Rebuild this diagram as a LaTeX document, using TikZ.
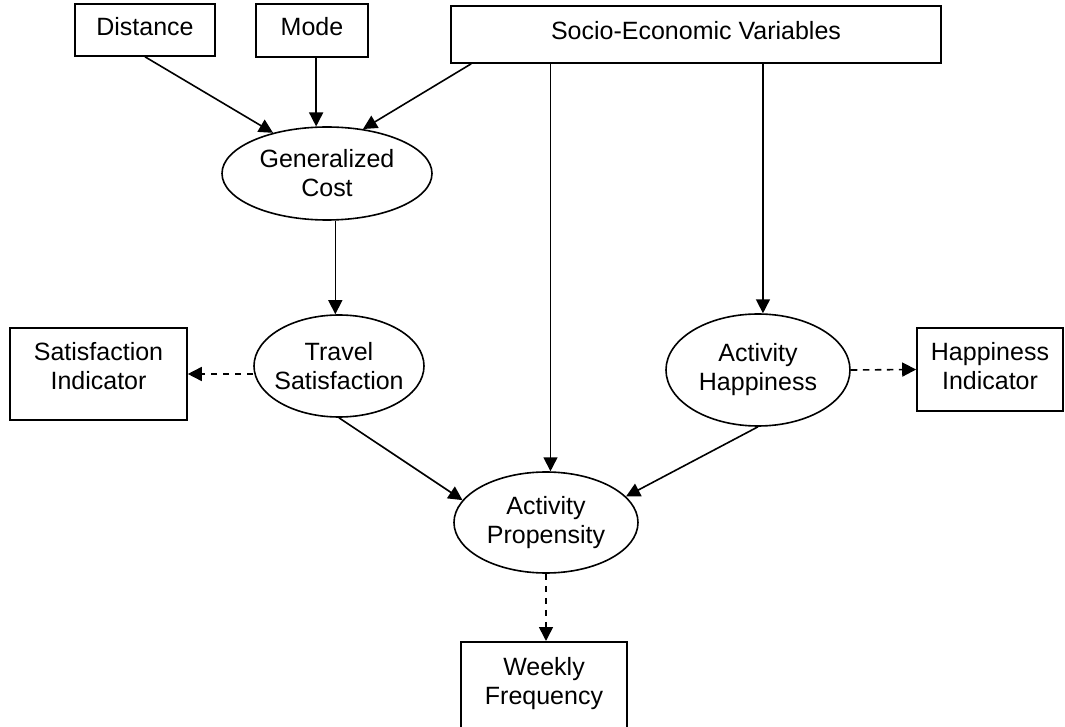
\documentclass[tikz,border=0pt]{standalone}
\usepackage{fontspec}
\setmainfont{Liberation Sans}
\usetikzlibrary{arrows.meta,shapes.geometric,calc}

\tikzset{every picture/.style={line width=1.2pt}}
\tikzset{
	varbox/.style={draw, rectangle, align=center, inner sep=2pt},
	latent/.style={draw, ellipse, align=center, inner sep=0pt},
	causal/.style={-{Triangle[length=10.5pt,width=10.5pt]}},
	measure/.style={causal, dash pattern=on 5pt off 4pt},
}

\begin{document}
\begin{tikzpicture}[x=0.75pt,y=0.75pt,yscale=-1,xscale=1,font=\fontsize{18.75}{21.75}\selectfont]
	\useasboundingbox (0,0) rectangle (1065,727); %set diagram size to 1065 x 727

	%Shape: Rectangle [id:dist]
	\node[varbox, minimum width=105pt, minimum height=39pt, text depth=6pt] (dist) at (145,30) {Distance};
	%Shape: Rectangle [id:mode]
	\node[varbox, minimum width=84pt, minimum height=39.75pt, text depth=6pt] (mode) at (312,30.5) {Mode};
	%Shape: Rectangle [id:socio]
	\node[varbox, minimum width=367.5pt, minimum height=42.75pt, text depth=6pt] (socio) at (696,34.5) {Socio-Economic Variables};
	%Shape: Ellipse [id:gc]
	\node[latent, minimum width=157.5pt, minimum height=69.75pt] (gc) at (327,173.5) {Generalized\\Cost};
	%Shape: Ellipse [id:ts]
	\node[latent, inner xsep=-5pt, minimum width=127.5pt, minimum height=76.5pt] (ts) at (339,366) {Travel\\Satisfaction};
	%Shape: Rectangle [id:si]
	\node[varbox, minimum width=132.75pt, minimum height=69pt, text depth=12pt] (si) at (98.5,374) {Satisfaction\\Indicator};
	%Shape: Ellipse [id:ah]
	\node[latent, minimum width=138pt, minimum height=84pt] (ah) at (758,370) {Activity\\Happiness};
	%Shape: Rectangle [id:hi]
	\node[varbox, minimum width=109.5pt, minimum height=62.25pt, text depth=5pt] (hi) at (990,369.5) {Happiness\\Indicator};
	%Shape: Ellipse [id:ap]
	\node[latent, minimum width=138pt, minimum height=75.75pt] (ap) at (546,522.5) {Activity\\Propensity};
	%Shape: Rectangle [id:wf]
	\node[varbox, anchor=north, minimum width=124.5pt, minimum height=112.5pt, text depth=54pt] (wf) at (544,641) {Weekly\\Frequency};

	%Straight Lines [id:dist-gc]
	\draw[causal] (dist.south) -- (gc.143);
	%Straight Lines [id:mode-gc]
	\draw[causal] (mode.south -| gc.103) -- (gc.103);
	%Straight Lines [id:socio-gc]
	\draw[causal] ($(socio.south west)+(21,0)$) -- (gc.51);
	%Straight Lines [id:socio-ap]
	\draw[causal] (socio.south -| ap.85) -- (ap.85);
	%Straight Lines [id:socio-ah]
	\draw[causal] (socio.south -| ah.85) -- (ah.85);
	%Straight Lines [id:gc-ts]
	\draw[causal] (gc.-80) -- (gc.-80 |- ts.north);
	%Straight Lines [id:ts-si]
	\draw[measure] (ts.west |- si.east) -- (si.east);
	%Straight Lines [id:ah-hi]
	\draw[measure] (ah.east) -- (hi.west);
	%Straight Lines [id:ts-ap]
	\draw[causal] (ts.south) -- (ap.165);
	%Straight Lines [id:ah-ap]
	\draw[causal] (ah.south) -- (ap.18);
	%Straight Lines [id:ap-wf]
	\draw[measure] (ap.south) -- (ap.south |- wf.north);

\end{tikzpicture}
\end{document}
